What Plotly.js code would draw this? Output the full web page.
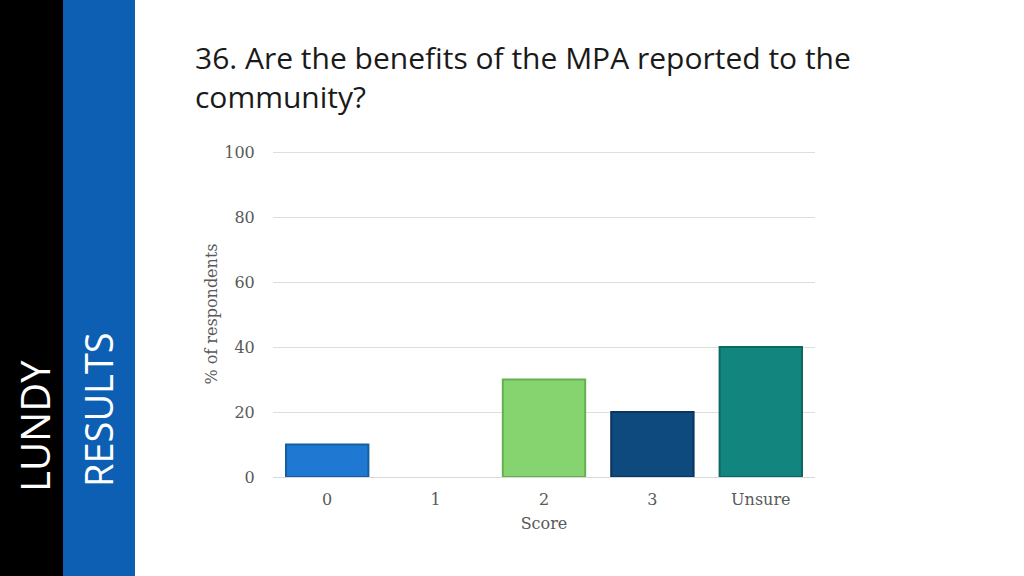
<!DOCTYPE html>
<html>
<head>
<meta charset="utf-8">
<script src="https://cdn.plot.ly/plotly-3.0.1.min.js"></script>
<style>html,body{margin:0;padding:0;background:#fff;}#chart{width:1024px;height:576px;}</style>
</head>
<body>
<div id="chart"></div>
<script>
const categories = ['0', '1', '2', '3', 'Unsure'];
const percentRespondents = [10, 0, 30, 20, 40];
const barColors = ['#1F78D1', '#1F78D1', '#86D46F', '#0F4A7F', '#12857F'];
const barEdgeColors = ['#14609F', '#14609F', '#66B050', '#0A3560', '#0C6662'];
const yTicks = [0, 20, 40, 60, 80, 100];

const W = 1024, H = 576;
const M = {l: 273, r: 209, t: 151, b: 99};
const pw = W - M.l - M.r, ph = H - M.t - M.b;
const px = x => (x - M.l) / pw;
const py = y => (H - M.b - y) / ph;

const trace = {
  type: 'bar',
  x: categories,
  y: percentRespondents,
  marker: {
    color: barColors,
    line: {color: barEdgeColors, width: percentRespondents.map(v => v > 0 ? 2 : 0)}
  },
  hoverinfo: 'x+y'
};

const axisFont = {family: 'DejaVu Serif, Liberation Serif, serif', size: 16, color: '#595959'};

const layout = {
  width: W, height: H,
  margin: M,
  paper_bgcolor: '#ffffff',
  plot_bgcolor: '#ffffff',
  bargap: 0.24,
  showlegend: false,
  title: {
    text: '36. Are the benefits of the MPA reported to the<br>community?',
    font: {family: 'Open Sans, sans-serif', size: 30, color: '#1a1a1a'},
    xref: 'container', yref: 'container',
    x: 195 / W, xanchor: 'left',
    y: 1 - 69 / H, yanchor: 'top'
  },
  xaxis: {
    type: 'category',
    tickfont: axisFont,
    ticks: 'outside', ticklen: 8, tickcolor: 'rgba(0,0,0,0)',
    showgrid: false, showline: false, zeroline: false,
    title: {text: 'Score', font: axisFont, standoff: 9}
  },
  yaxis: {
    range: [0, 100.4],
    tickvals: yTicks,
    tickfont: axisFont,
    ticks: 'outside', ticklen: 14, tickcolor: 'rgba(0,0,0,0)',
    showgrid: true, gridcolor: '#dedede', gridwidth: 1,
    zeroline: true, zerolinecolor: '#d9d9d9', zerolinewidth: 1,
    showline: false,
    title: {text: '% of respondents', font: axisFont, standoff: 2}
  },
  shapes: [
    {type: 'rect', xref: 'paper', yref: 'paper', x0: px(0), x1: px(63), y0: py(H), y1: py(0),
     fillcolor: '#000000', line: {width: 0}, layer: 'below'},
    {type: 'rect', xref: 'paper', yref: 'paper', x0: px(63), x1: px(135), y0: py(H), y1: py(0),
     fillcolor: '#0C5FB2', line: {width: 0}, layer: 'below'}
  ],
  annotations: [
    {text: 'LUNDY', xref: 'paper', yref: 'paper', x: px(34), y: py(426), textangle: -90,
     showarrow: false, xanchor: 'center', yanchor: 'middle',
     font: {family: 'Open Sans, sans-serif', size: 40, color: '#ffffff'}},
    {text: 'RESULTS', xref: 'paper', yref: 'paper', x: px(98), y: py(410), textangle: -90,
     showarrow: false, xanchor: 'center', yanchor: 'middle',
     font: {family: 'Open Sans, sans-serif', size: 38, color: '#ffffff'}}
  ]
};

Plotly.newPlot('chart', [trace], layout, {displayModeBar: false, staticPlot: true});
</script>
</body>
</html>
